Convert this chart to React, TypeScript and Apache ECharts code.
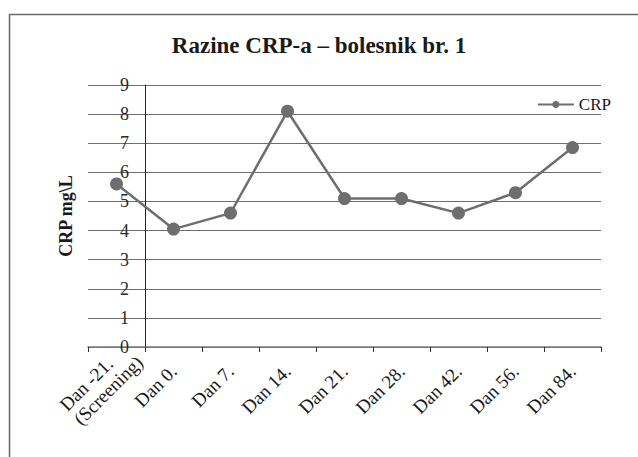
import React, { useEffect, useRef } from "react";
import * as echarts from "echarts";

const categories = [
  "Dan -21.\n(Screening)",
  "Dan 0.",
  "Dan 7.",
  "Dan 14.",
  "Dan 21.",
  "Dan 28.",
  "Dan 42.",
  "Dan 56.",
  "Dan 84.",
];
const crpValues = [5.6, 4.05, 4.6, 8.1, 5.1, 5.1, 4.6, 5.3, 6.85];
const seriesName = "CRP";
const titleText = "Razine CRP-a – bolesnik br. 1";
const yAxisName = "CRP mg\\L";

const FONT = "'Liberation Serif', 'DejaVu Serif', serif";

export default function App() {
  const ref = useRef<HTMLDivElement>(null);
  useEffect(() => {
    if (!ref.current) return;
    const chart = echarts.init(ref.current, null, { renderer: "svg" });
    chart.setOption({
      animation: false,
      backgroundColor: "#fff",
      graphic: [
        {
          type: "rect",
          left: 7,
          top: 12,
          shape: { width: 700, height: 500 },
          style: { fill: "none", stroke: "#6a6a6a", lineWidth: 1.5 },
        },
      ],
      title: {
        text: titleText,
        left: "center",
        top: 29,
        textStyle: { fontFamily: FONT, fontSize: 23, fontWeight: "bold", color: "#1a1a1a" },
      },
      legend: {
        right: 22,
        top: 91,
        itemWidth: 36,
        itemHeight: 9,
        itemGap: 3,
        textStyle: { fontFamily: FONT, fontSize: 17, color: "#1a1a1a" },
        data: [{ name: seriesName }],
      },
      grid: { left: 88, right: 37, top: 85, bottom: 110, containLabel: false },
      xAxis: {
        type: "category",
        data: categories,
        boundaryGap: true,
        axisLine: { lineStyle: { color: "#7a7a7a", width: 1.5 } },
        axisTick: { show: true, length: 5, lineStyle: { color: "#333", width: 1 } },
        axisLabel: {
          rotate: 45,
          interval: 0,
          margin: 21,
          fontFamily: FONT,
          fontSize: 19,
          color: "#1a1a1a",
          lineHeight: 20,
          width: 66,
          overflow: "none",
          formatter: (v: string) =>
            v.indexOf("\n") >= 0
              ? v
                  .split("\n")
                  .map((s) => `{l|${s}}`)
                  .join("\n")
              : v,
          rich: {
            l: {
              align: "left",
              fontFamily: FONT,
              fontSize: 19,
              color: "#1a1a1a",
              lineHeight: 20,
            },
          },
        },
        splitLine: { show: false },
      },
      yAxis: {
        type: "value",
        min: 0,
        max: 9,
        interval: 1,
        offset: -57,
        name: yAxisName,
        nameLocation: "middle",
        nameGap: 70,
        nameTextStyle: { fontFamily: FONT, fontSize: 18, fontWeight: "bold", color: "#1a1a1a" },
        axisLine: { show: true, lineStyle: { color: "#222", width: 1 } },
        axisTick: { show: false },
        axisLabel: { margin: 16, fontFamily: FONT, fontSize: 18, color: "#2a2a2a" },
        splitLine: { show: true, lineStyle: { color: "#6e6e6e", width: 1.2 } },
      },
      series: [
        {
          name: seriesName,
          type: "line",
          data: crpValues,
          symbol: "circle",
          symbolSize: 13,
          lineStyle: { color: "#6e6e6e", width: 2.5 },
          itemStyle: { color: "#6e6e6e" },
        },
      ],
    });
    return () => chart.dispose();
  }, []);
  return (
    <div
      ref={ref}
      style={{ position: "absolute", left: 0, top: 0, width: 638, height: 457 }}
    />
  );
}
